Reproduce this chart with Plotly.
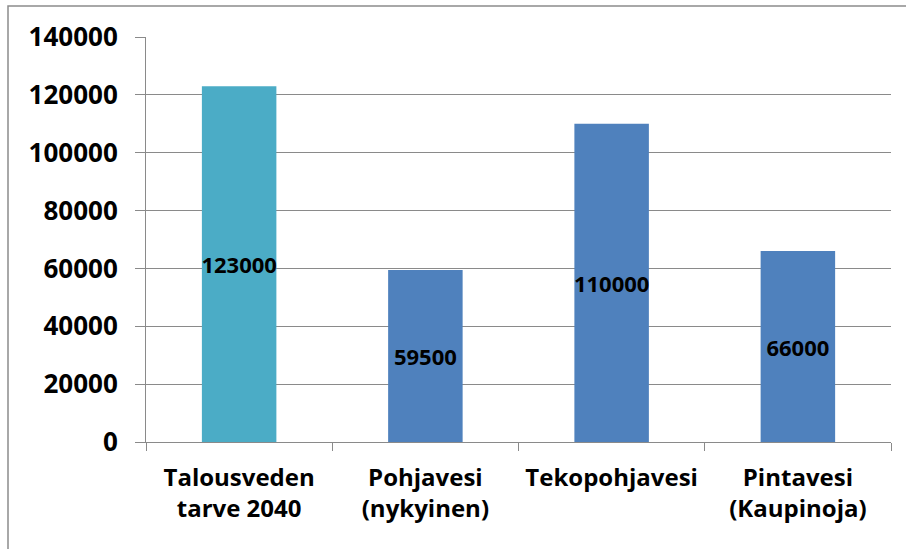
import plotly.graph_objects as go

# Water supply: demand in 2040 vs. available sources (m3/day)
categories = ["Talousveden<br>tarve 2040", "Pohjavesi<br>(nykyinen)", "Tekopohjavesi", "Pintavesi<br>(Kaupinoja)"]
values = [123000, 59500, 110000, 66000]
bar_colors = ["#4BACC6", "#4F81BD", "#4F81BD", "#4F81BD"]
y_ticks = [0, 20000, 40000, 60000, 80000, 100000, 120000, 140000]

FONT = "Open Sans"
GRID = "#8a8a8a"

fig = go.Figure(
    go.Bar(
        x=categories,
        y=values,
        marker=dict(color=bar_colors, line=dict(width=0)),
        text=[str(v) for v in values],
        textposition="inside",
        insidetextanchor="middle",
        textangle=0,
        textfont=dict(family=FONT, size=22, color="black", weight="bold"),
        constraintext="none",
        cliponaxis=False,
    )
)

fig.update_layout(
    width=906,
    height=549,
    margin=dict(l=146, r=15, t=37, b=107),
    paper_bgcolor="white",
    plot_bgcolor="white",
    bargap=0.6,
    showlegend=False,
    font=dict(family=FONT, size=25, color="black", weight="bold"),
    uniformtext=dict(mode=False),
)

fig.update_xaxes(
    automargin=False,
    tickangle=0,
    showline=True,
    linecolor=GRID,
    linewidth=1,
    ticks="outside",
    tickson="boundaries",
    ticklen=8,
    tickcolor=GRID,
    showgrid=False,
    ticklabelstandoff=14,
    tickfont=dict(family=FONT, size=24, color="black", weight="bold"),
)

fig.update_yaxes(
    automargin=False,
    range=[0, 140000],
    tickvals=y_ticks,
    ticktext=[str(v) for v in y_ticks],
    showline=True,
    linecolor=GRID,
    linewidth=1,
    ticks="outside",
    ticklen=10,
    tickcolor=GRID,
    showgrid=True,
    gridcolor=GRID,
    gridwidth=1,
    zeroline=False,
    ticklabelstandoff=12,
    tickfont=dict(family=FONT, size=26, color="black", weight="bold"),
)

# Chart frame around the whole figure
fig.add_shape(
    type="rect",
    xref="paper", yref="paper",
    x0=(8 - 146) / 745, x1=1.2,
    y0=-0.6, y1=1 + 31 / 405,
    line=dict(color="#8c8c8c", width=1.5),
    fillcolor="rgba(0,0,0,0)",
    layer="below",
)

fig.write_html("out.html")
